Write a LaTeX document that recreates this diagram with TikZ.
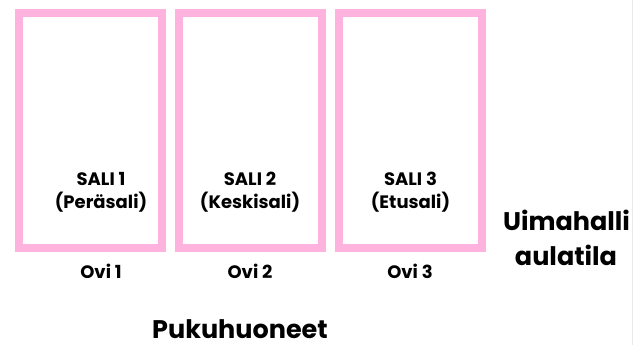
\documentclass[tikz,border=0pt]{standalone}
\usepackage{fontspec}
\setmainfont{Poppins}[BoldFont=* Bold]
\definecolor{salipink}{HTML}{FDB3DD}
\definecolor{edgegrey}{HTML}{E8E8E8}
\begin{document}
\begin{tikzpicture}[x=1pt,y=-1pt,
  hall/.style={draw=salipink,line width=8pt,minimum width=143pt,minimum height=235pt,inner sep=0pt},
  lbl/.style={anchor=base,inner sep=0pt,font=\bfseries\fontsize{18}{18}\selectfont},
  big/.style={anchor=base,inner sep=0pt,font=\bfseries\fontsize{25.5}{25.5}\selectfont}]
\useasboundingbox[fill=white] (0,0) rectangle (643,345);
\draw[edgegrey,line width=1pt] (632.5,0) -- (632.5,345);
\node[hall] (h1) at (90.5,130.5) {};
\node[hall] (h2) at (250.5,130.5) {};
\node[hall] (h3) at (410.5,130.5) {};
\node[lbl] (s1) at (101,185) {SALI 1};
\node[lbl] (p1) at (101,208) {(Peräsali)};
\node[lbl] (s2) at (250,185) {SALI 2};
\node[lbl] (p2) at (250,208) {(Keskisali)};
\node[lbl] (s3) at (410.5,185) {SALI 3};
\node[lbl] (p3) at (410.5,208) {(Etusali)};
\node[lbl] (o1) at (101,278) {Ovi 1};
\node[lbl] (o2) at (250,278) {Ovi 2};
\node[lbl] (o3) at (410,278) {Ovi 3};
\node[big] (puku) at (240,338.5) {Pukuhuoneet};
\node[big] (uima) at (566.5,230) {Uimahalli};
\node[big] (aula) at (566,265) {aulatila};
\end{tikzpicture}
\end{document}
